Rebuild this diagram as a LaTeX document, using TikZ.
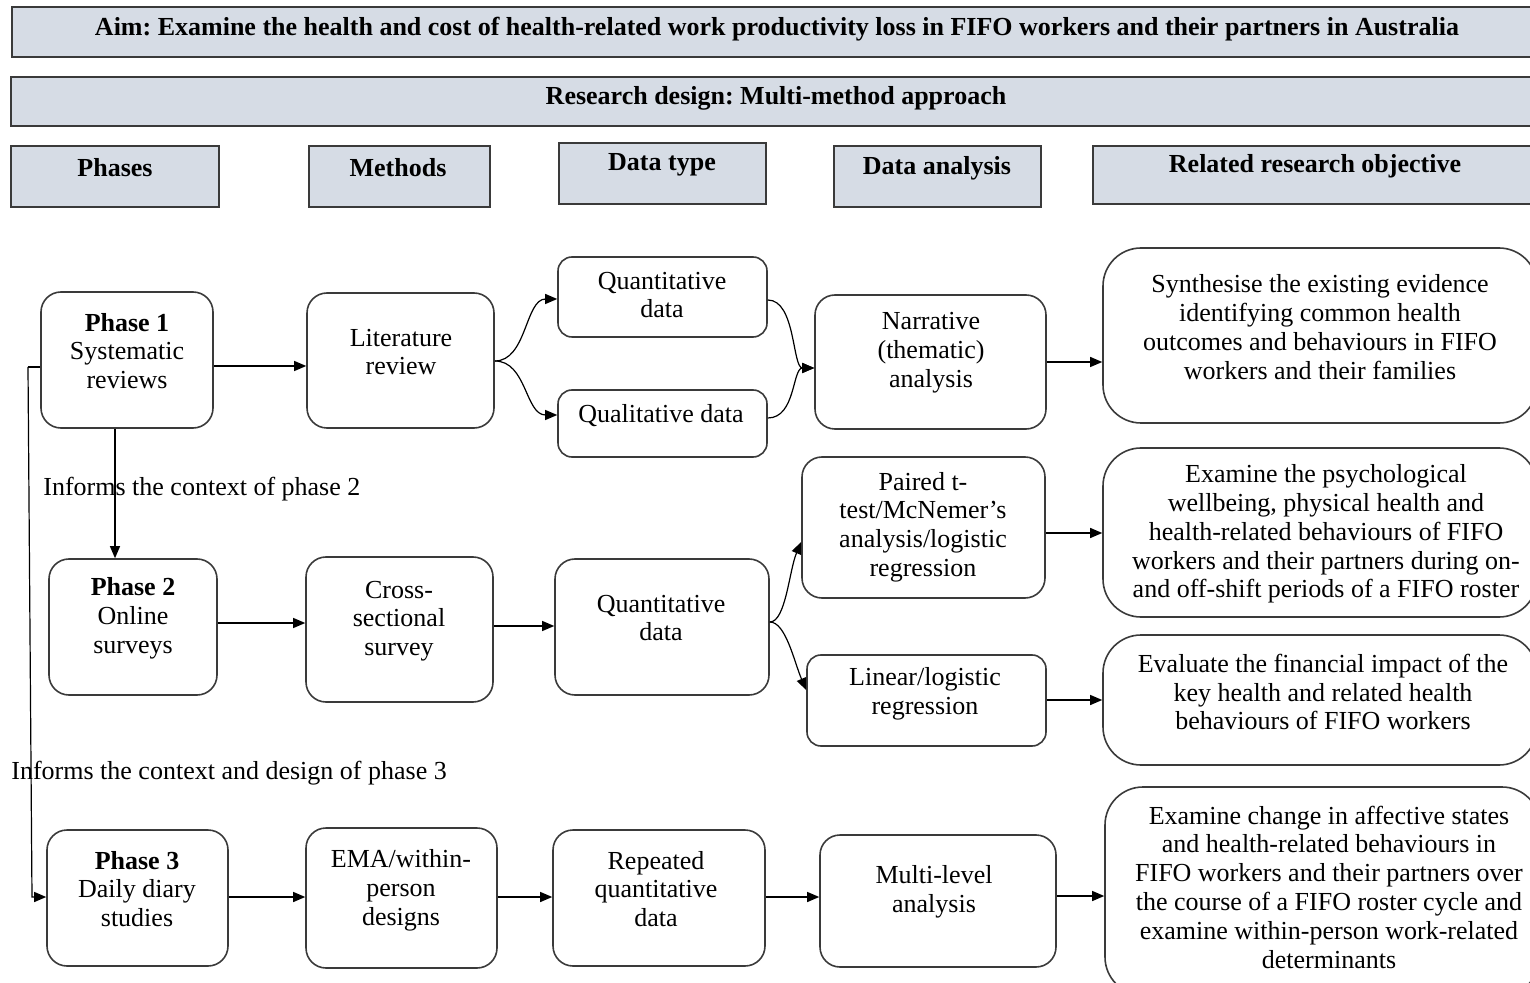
\documentclass[tikz,border=0pt]{standalone}
\usepackage{fontspec}
\setmainfont{Liberation Serif}
\usetikzlibrary{arrows.meta,fit,calc}
\definecolor{hdrfill}{HTML}{D6DCE5}
\definecolor{edge}{HTML}{3A3A3A}
\frenchspacing
\begin{document}
\begin{tikzpicture}[x=0.5pt,y=-0.5pt,
  font=\fontsize{13pt}{14.4pt}\selectfont,
  hbox/.style={draw=edge, line width=0.9pt, fill=hdrfill, inner sep=0pt},
  rbox/.style={draw=edge, line width=0.8pt, rounded corners=10pt, inner sep=0pt},
  obox/.style={rbox, rounded corners=19pt},
  sbox/.style={rbox, rounded corners=7pt},
  txt/.style={align=center, inner sep=0pt},
  htxt/.style={inner sep=0pt, font=\fontsize{13pt}{14.4pt}\selectfont\bfseries},
  lbl/.style={inner sep=0pt, anchor=west},
  arr/.style={line width=0.6pt, draw=black, -{Triangle[length=6pt,width=5pt]}},
  ln/.style={line width=0.6pt, draw=black}]
\useasboundingbox (0,0) rectangle (1530,983);

% header boxes
\node[hbox, fit={(12,7) (1545,57)}] (aim) {};
\node[htxt] (aimt) at (777,29) {Aim: Examine the health and cost of health-related work productivity loss in FIFO workers and their partners in Australia};
\node[hbox, fit={(11,77) (1545,126)}] (rd) {};
\node[htxt] (rdt) at (776,98) {Research design: Multi-method approach};
\node[hbox, fit={(11,146) (219,207)}] (hph) {};
\node[htxt] (hpht) at (115,168) {Phases};
\node[hbox, fit={(309,146) (490,207)}] (hme) {};
\node[htxt] (hmet) at (398,168) {Methods};
\node[hbox, fit={(559,143) (766,204)}] (hdt) {};
\node[htxt] (hdtt) at (662,165) {Data type};
\node[hbox, fit={(834,146) (1041,207)}] (hda) {};
\node[htxt] (hdat) at (937,168) {Data analysis};
\node[hbox, fit={(1093,146) (1545,204)}] (hro) {};
\node[htxt] (hrot) at (1315,166) {Related research objective};

% row 1
\node[rbox, fit={(41,292) (213,428)}] (p1) {};
\node[txt] (p1t) at (127,351) {\textbf{Phase 1}\\Systematic\\reviews};
\node[rbox, fit={(307,293) (494,428)}] (lit) {};
\node[txt] (litt) at (401,352) {Literature\\review};
\node[sbox, fit={(558,257) (767,337)}] (qn1) {};
\node[txt] (qn1t) at (662,295) {Quantitative\\data};
\node[sbox, fit={(558,390) (767,457)}] (ql) {};
\node[txt] (qlt) at (661,416) {Qualitative data};
\node[rbox, fit={(815,295) (1046,429)}] (nar) {};
\node[txt] (nart) at (931,353) {Narrative\\(thematic)\\analysis};
\node[obox, fit={(1103,248) (1537,423)}] (o1) {};
\node[txt] (o1t) at (1320,327) {Synthesise the existing evidence\\identifying common health\\outcomes and behaviours in FIFO\\workers and their families};

% row 2
\node[rbox, fit={(49,559) (217,695)}] (p2) {};
\node[txt] (p2t) at (133,618) {\textbf{Phase 2}\\Online\\surveys};
\node[rbox, fit={(306,557) (493,702)}] (cs) {};
\node[txt] (cst) at (399,621) {Cross-\\sectional\\survey};
\node[rbox, fit={(555,559) (769,695)}] (qn2) {};
\node[txt] (qn2t) at (661,618) {Quantitative\\data};
\node[rbox, fit={(802,457) (1045,598)}] (pt) {};
\node[txt] (ptt) at (923,527) {Paired t-\\test/McNemer’s\\analysis/logistic\\regression};
\node[sbox, fit={(807,655) (1046,746)}] (lin) {};
\node[txt] (lint) at (925,694) {Linear/logistic\\regression};
\node[obox, fit={(1103,448) (1537,617)}] (o2) {};
\node[txt] (o2t) at (1326,534) {Examine the psychological\\wellbeing, physical health and\\health-related behaviours of FIFO\\workers and their partners during on-\\and off-shift periods of a FIFO roster};
\node[obox, fit={(1103,635) (1537,765)}] (o3) {};
\node[txt] (o3t) at (1323,692) {Evaluate the financial impact of the\\key health and related health\\behaviours of FIFO workers};

% row 3
\node[rbox, fit={(47,830) (228,966)}] (p3) {};
\node[txt] (p3t) at (137,889) {\textbf{Phase 3}\\Daily diary\\studies};
\node[rbox, fit={(306,828) (497,968)}] (ema) {};
\node[txt] (emat) at (401,890) {EMA/within-\\person\\designs};
\node[rbox, fit={(553,830) (765,966)}] (rep) {};
\node[txt] (rept) at (656,889) {Repeated\\quantitative\\data};
\node[rbox, fit={(820,835) (1056,967)}] (ml) {};
\node[txt] (mlt) at (934,892) {Multi-level\\analysis};
\node[obox, fit={(1105,787) (1540,995)}] (o4) {};
\node[txt] (o4t) at (1329,887) {Examine change in affective states\\and health-related behaviours in\\FIFO workers and their partners over\\the course of a FIFO roster cycle and\\examine within-person work-related\\determinants};

% labels
\node[lbl] (inf2) at (43,489) {Informs the context of phase 2};
\node[lbl] (inf3) at (11,773) {Informs the context and design of phase 3};

% connectors
\coordinate (ltop) at (28,367);
\coordinate (lbot) at (32,897);
\draw[ln] (p1.west |- ltop) -- (ltop);
\draw[arr] (ltop) -- (lbot) -- (p3.west |- lbot);
\draw[arr] (p1.south -| 115,0) -- (p2.north -| 115,0);

\draw[arr] (p1.east |- 0,366) -- (lit.west |- 0,366);
\draw[arr] (lit.east |- 0,361) .. controls +(32,0) and +(-32,0) .. (qn1.west |- 0,299);
\draw[arr] (lit.east |- 0,361) .. controls +(32,0) and +(-32,0) .. (ql.west |- 0,415);
\draw[arr] (qn1.east |- 0,300) .. controls +(28,0) and +(-22,0) .. (nar.west |- 0,368);
\draw[arr] (ql.east |- 0,418) .. controls +(28,0) and +(-22,0) .. (nar.west |- 0,368);
\draw[arr] (nar.east |- 0,362) -- (o1.west |- 0,362);

\draw[arr] (p2.east |- 0,623) -- (cs.west |- 0,623);
\draw[arr] (cs.east |- 0,626) -- (qn2.west |- 0,626);
\draw[arr] (qn2.east |- 0,622) .. controls +(16,0) and +(-12,28) .. (pt.west |- 0,542);
\draw[arr] (qn2.east |- 0,622) .. controls +(16,0) and +(-12,-28) .. (lin.west |- 0,690);
\draw[arr] (pt.east |- 0,533) -- (o2.west |- 0,533);
\draw[arr] (lin.east |- 0,700) -- (o3.west |- 0,700);

\draw[arr] (p3.east |- 0,897) -- (ema.west |- 0,897);
\draw[arr] (ema.east |- 0,897) -- (rep.west |- 0,897);
\draw[arr] (rep.east |- 0,897) -- (ml.west |- 0,897);
\draw[arr] (ml.east |- 0,896) -- (o4.west |- 0,896);
\end{tikzpicture}
\end{document}
